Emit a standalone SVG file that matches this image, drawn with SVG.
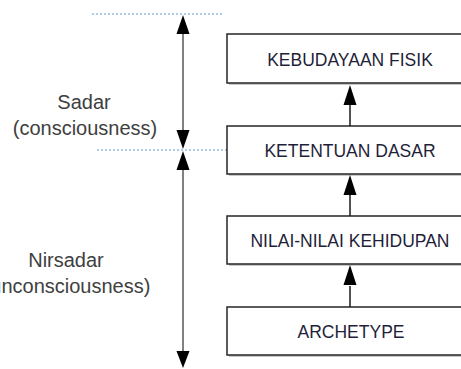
<svg xmlns="http://www.w3.org/2000/svg" width="461" height="369" viewBox="0 0 461 369">
<style>
.box{fill:#fff;stroke:#262626;stroke-width:1.5}
.shadow{fill:#c8c8c8}
.bt{font-family:"Liberation Sans",Arial,sans-serif;font-size:17.5px;fill:#1f1f3a;text-anchor:middle}
.lt{font-family:"Liberation Sans",Arial,sans-serif;font-size:20px;fill:#404040;text-anchor:middle}
.dot{stroke:#5b9bd5;stroke-width:1;stroke-dasharray:2 2;fill:none}
.vline{stroke:#808080;stroke-width:2;fill:none}
.conn{stroke:#1a1a1a;stroke-width:1.5;fill:none}
.head{fill:#000}
</style>
<rect width="461" height="369" fill="#fff"/>
<g id="guides">
<line class="dot" x1="92" y1="14" x2="224" y2="14"/>
<line class="dot" x1="97" y1="150" x2="227" y2="150"/>
</g>
<g id="n1"><rect class="shadow" x="229" y="36" width="246" height="49"/><rect class="box" x="227" y="34" width="246" height="49"/><text class="bt" x="350" y="66">KEBUDAYAAN FISIK</text></g>
<g id="n2"><rect class="shadow" x="229" y="128" width="246" height="48"/><rect class="box" x="227" y="126" width="246" height="48"/><text class="bt" x="350" y="156.5">KETENTUAN DASAR</text></g>
<g id="n3"><rect class="shadow" x="229" y="218" width="246" height="48"/><rect class="box" x="227" y="216" width="246" height="48"/><text class="bt" x="350" y="246.5">NILAI-NILAI KEHIDUPAN</text></g>
<g id="n4"><rect class="shadow" x="229" y="309" width="246" height="48"/><rect class="box" x="227" y="307" width="246" height="48"/><text class="bt" x="351" y="337.5">ARCHETYPE</text></g>
<g id="labels">
<text class="lt" x="84" y="109">Sadar</text>
<text class="lt" x="85" y="135">(consciousness)</text>
<text class="lt" x="66" y="267">Nirsadar</text>
<text class="lt" x="67" y="293">(unconsciousness)</text>
</g>
<g id="connectors">
<line class="vline" x1="183" y1="32" x2="183" y2="131"/>
<polygon class="head" points="183,15 176.5,34 189.5,34"/>
<polygon class="head" points="183,149 176.5,130 189.5,130"/>
<line class="vline" x1="183" y1="168" x2="183" y2="354"/>
<polygon class="head" points="183,151 176.5,170 189.5,170"/>
<polygon class="head" points="183,368 176.5,351 189.5,351"/>
<line class="conn" x1="350" y1="104" x2="350" y2="126"/>
<polygon class="head" points="350,85 343.5,105 356.5,105"/>
<line class="conn" x1="350" y1="195" x2="350" y2="216"/>
<polygon class="head" points="350,175 343.5,195 356.5,195"/>
<line class="conn" x1="350" y1="286" x2="350" y2="307"/>
<polygon class="head" points="350,265 343.5,285 356.5,285"/>
</g>
</svg>
